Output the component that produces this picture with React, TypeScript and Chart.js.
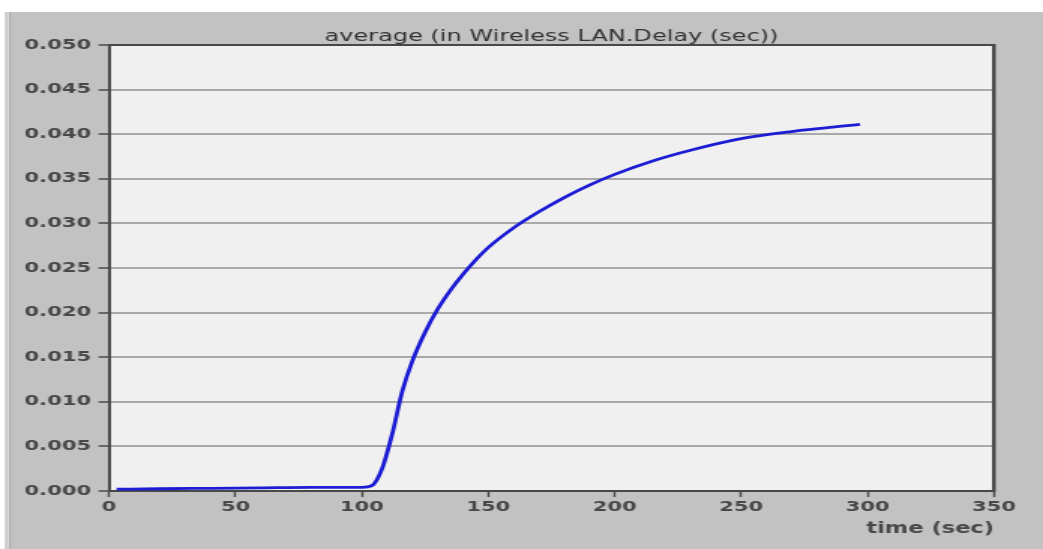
import React, { useEffect, useRef } from "react";
import { Chart, registerables } from "chart.js";

Chart.register(...registerables);

// ---- data ----
const TIMES = [3, 20, 40, 60, 80, 100, 104, 108, 112, 116, 120, 125, 130, 135, 140, 145, 150, 160, 170, 180, 190, 200, 215, 230, 250, 270, 297];
const DELAYS = [0.0002, 0.00025, 0.0003, 0.00035, 0.0004, 0.0004, 0.0006, 0.0025, 0.0064, 0.0112, 0.0146, 0.0178, 0.0204, 0.0225, 0.0243, 0.0259, 0.0273, 0.0295, 0.0313, 0.0329, 0.0343, 0.0355, 0.037, 0.0382, 0.0395, 0.0403, 0.0411];
const X_TICKS = [0, 50, 100, 150, 200, 250, 300, 350];
const Y_TICKS = [0, 0.005, 0.01, 0.015, 0.02, 0.025, 0.03, 0.035, 0.04, 0.045, 0.05];
const TITLE = "average (in Wireless LAN.Delay (sec))";
const X_TITLE = "time (sec)";

// ---- layout ----
const OUT_W = 1043;
const OUT_H = 549;
const W = 695;
const SX = OUT_W / W;
const PLOT_LEFT = 109 / SX;
const PLOT_RIGHT = 994 / SX;
const PLOT_TOP = 45;
const PLOT_BOTTOM = 491;
const FONT = "'DejaVu Sans', sans-serif";
const TEXT = "#484848";
const TITLE_COLOR = "#333333";
const AXIS = "#484848";

const bgPlugin = {
  id: "bgPlugin",
  beforeDraw(chart: any) {
    const { ctx, width, height, chartArea } = chart;
    ctx.save();
    ctx.fillStyle = "#ffffff";
    ctx.fillRect(0, 0, width, height);
    const x0 = 5 / SX;
    ctx.fillStyle = "#c2c2c2";
    ctx.fillRect(x0, 12, width - x0, height - 12);
    ctx.fillStyle = "#dcdcdc";
    ctx.fillRect(7 / SX, 12, 2 / SX, height - 12);
    ctx.fillStyle = "#b2b2b2";
    ctx.fillRect(9 / SX, 12, 2 / SX, height - 12);
    ctx.fillStyle = "#f0f0f0";
    ctx.fillRect(chartArea.left, chartArea.top, chartArea.right - chartArea.left, chartArea.bottom - chartArea.top);
    ctx.restore();
  },
};

export default function App() {
  const ref = useRef<HTMLCanvasElement | null>(null);

  useEffect(() => {
    if (!ref.current) return;
    const chart = new Chart(ref.current, {
      type: "line",
      data: {
        datasets: [
          {
            data: TIMES.map((t, i) => ({ x: t, y: DELAYS[i] })),
            borderColor: "#1c1cd4",
            borderWidth: 2.8,
            pointRadius: 0,
            cubicInterpolationMode: "monotone",
            fill: false,
            xAxisID: "x",
            yAxisID: "y",
          },
        ],
      },
      options: {
        animation: false,
        responsive: false,
        devicePixelRatio: 1,
        layout: { padding: 0 },
        plugins: {
          legend: { display: false },
          tooltip: { enabled: false },
          title: { display: false },
        },
        scales: {
          x: {
            type: "linear",
            position: "bottom",
            min: 0,
            max: 350,
            afterBuildTicks: (s: any) => {
              s.ticks = X_TICKS.map((v) => ({ value: v }));
            },
            afterFit: (s: any) => {
              s.height = OUT_H - PLOT_BOTTOM;
            },
            grid: {
              display: true,
              drawOnChartArea: false,
              drawTicks: true,
              tickLength: 6,
              tickColor: AXIS,
              tickWidth: 1.4,
            },
            border: { display: true, color: AXIS, width: 2 },
            ticks: {
              color: TEXT,
              font: { family: FONT, size: 14, weight: "bold" },
              padding: 2,
              maxRotation: 0,
              autoSkip: false,
              callback: (v: any) => String(v),
            },
            title: {
              display: true,
              text: X_TITLE,
              align: "end",
              color: TEXT,
              font: { family: FONT, size: 15, weight: "bold" },
              padding: { top: 0, bottom: 11 },
            },
          },
          xTop: {
            type: "linear",
            position: "top",
            min: 0,
            max: 350,
            grid: { display: false },
            ticks: { display: false },
            border: { display: true, color: AXIS, width: 2 },
            afterFit: (s: any) => {
              s.height = PLOT_TOP;
            },
            title: {
              display: true,
              text: TITLE,
              align: "center",
              color: TITLE_COLOR,
              font: { family: FONT, size: 16 },
              padding: { top: 27, bottom: 0 },
            },
          },
          y: {
            type: "linear",
            position: "left",
            min: 0,
            max: 0.05,
            afterBuildTicks: (s: any) => {
              s.ticks = Y_TICKS.map((v) => ({ value: v }));
            },
            afterFit: (s: any) => {
              s.width = PLOT_LEFT;
            },
            grid: {
              display: true,
              drawOnChartArea: true,
              drawTicks: true,
              tickLength: 7,
              color: "#a9a9a9",
              lineWidth: 2,
              tickColor: AXIS,
              tickWidth: 1.5,
            },
            border: { display: true, color: AXIS, width: 2 },
            ticks: {
              color: TEXT,
              font: { family: FONT, size: 14, weight: "bold" },
              padding: 5,
              callback: (v: any) => Number(v).toFixed(3),
            },
          },
          yRight: {
            type: "linear",
            position: "right",
            min: 0,
            max: 0.05,
            grid: { display: false },
            ticks: { display: false },
            border: { display: true, color: AXIS, width: 2.5 },
            afterFit: (s: any) => {
              s.width = W - PLOT_RIGHT;
            },
          },
        },
      } as any,
      plugins: [bgPlugin],
    });
    return () => chart.destroy();
  }, []);

  return (
    <div
      style={{
        position: "fixed",
        left: 0,
        top: 0,
        width: W,
        height: OUT_H,
        transform: `scaleX(${SX})`,
        transformOrigin: "0 0",
      }}
    >
      <canvas ref={ref} width={W} height={OUT_H} style={{ display: "block" }} />
    </div>
  );
}
